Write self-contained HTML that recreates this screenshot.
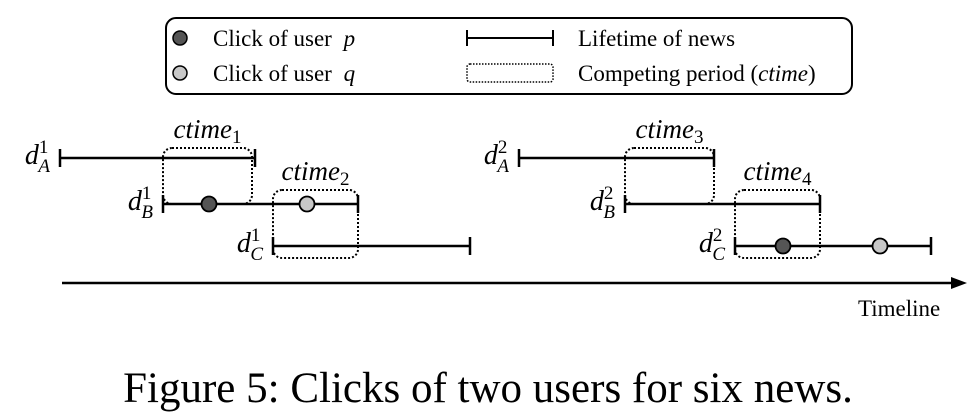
<!DOCTYPE html>
<html><head><meta charset="utf-8"><style>
html,body{margin:0;padding:0;background:#fff;}
svg{display:block;font-family:"Liberation Serif",serif;}
</style></head><body>
<svg width="976" height="420" viewBox="0 0 976 420">
<g>
<rect x="166" y="18" width="686" height="76" rx="10" fill="#fff" stroke="#000" stroke-width="2"/>
<circle cx="180" cy="38" r="7" fill="#555" stroke="#000" stroke-width="1.5"/>
<text x="213" y="46" font-size="23">Click of user <tspan font-style="italic" dx="6">p</tspan></text>
<circle cx="180" cy="73" r="7" fill="#c8c8c8" stroke="#000" stroke-width="1.5"/>
<text x="213" y="81" font-size="23">Click of user <tspan font-style="italic" dx="6">q</tspan></text>
<g stroke="#000" stroke-width="2"><line x1="467" y1="38" x2="553" y2="38"/><line x1="467" y1="30" x2="467" y2="46"/><line x1="553" y1="30" x2="553" y2="46"/></g>
<text x="578" y="46" font-size="23">Lifetime of news</text>
<rect x="467" y="64" width="86" height="18" rx="3" fill="none" stroke="#000" stroke-width="1.5" stroke-dasharray="1.5 1.5"/>
<text x="578" y="81" font-size="23">Competing period (<tspan font-style="italic">ctime</tspan>)</text>
</g>
<g id="diagram"></g>
<g>
<line x1="62" y1="283" x2="955" y2="283" stroke="#000" stroke-width="2.5"/>
<polygon points="967,283 951,277 951,289" fill="#000"/>
<text x="858" y="316" font-size="23">Timeline</text>
</g>
<text x="488" y="402" font-size="43" text-anchor="middle">Figure 5: Clicks of two users for six news.</text>
</svg>
<script>
const ns="http://www.w3.org/2000/svg";
const g=document.getElementById('diagram');
const newsStart=[60,163,273,519,625,735];
const newsEnd=[255,358,470,714,820,931];
const newsRow=[158,204,246,158,204,246];
const newsSub=['A','B','C','A','B','C'];
const newsSup=['1','1','1','2','2','2'];
const ctimeStart=[163,273,625,735];
const ctimeEnd=[252,358,714,820];
const ctimeTop=[148,190,148,190];
const ctimeBottom=[204,258,204,258];
const clickX=[209,307,783,880];
const clickY=[204,204,246,246];
const clickUser=['p','q','p','q'];
function el(t,a){const e=document.createElementNS(ns,t);for(const k in a)e.setAttribute(k,a[k]);g.appendChild(e);return e;}
for(let i=0;i<ctimeStart.length;i++){
 const r=el('rect',{x:ctimeStart[i],y:ctimeTop[i],width:ctimeEnd[i]-ctimeStart[i],height:ctimeBottom[i]-ctimeTop[i],rx:9,fill:'none',stroke:'#000','stroke-width':2,'stroke-dasharray':'2 2'});
 
 
 const t=el('text',{x:(ctimeStart[i]+ctimeEnd[i])/2,y:ctimeTop[i]-10,'font-size':27,'font-style':'italic','text-anchor':'middle'});
 t.innerHTML='ctime<tspan font-size="19" dy="5" font-style="normal">'+(i+1)+'</tspan>';
 
 
}
for(let i=0;i<newsStart.length;i++){
 const y=newsRow[i];
 const l=el('path',{d:`M${newsStart[i]} ${y}H${newsEnd[i]}M${newsStart[i]} ${y-9}V${y+9}M${newsEnd[i]} ${y-9}V${y+9}`,stroke:'#000','stroke-width':2.5,fill:'none'});
 
 
 const t=el('text',{x:newsStart[i]-10,y:y+6,'font-size':28,'font-style':'italic','text-anchor':'end'});
 t.innerHTML='d<tspan font-size="19" font-style="normal" dy="-11">'+newsSup[i]+'</tspan><tspan font-size="19" dx="-10" dy="19">'+newsSub[i]+'</tspan>';
 
 
}
for(let i=0;i<clickX.length;i++){
 const c=el('circle',{cx:clickX[i],cy:clickY[i],r:7.5,fill:clickUser[i]==='p'?'#555':'#c8c8c8',stroke:'#000','stroke-width':1.8});
 
 
}
</script>
</body></html>
